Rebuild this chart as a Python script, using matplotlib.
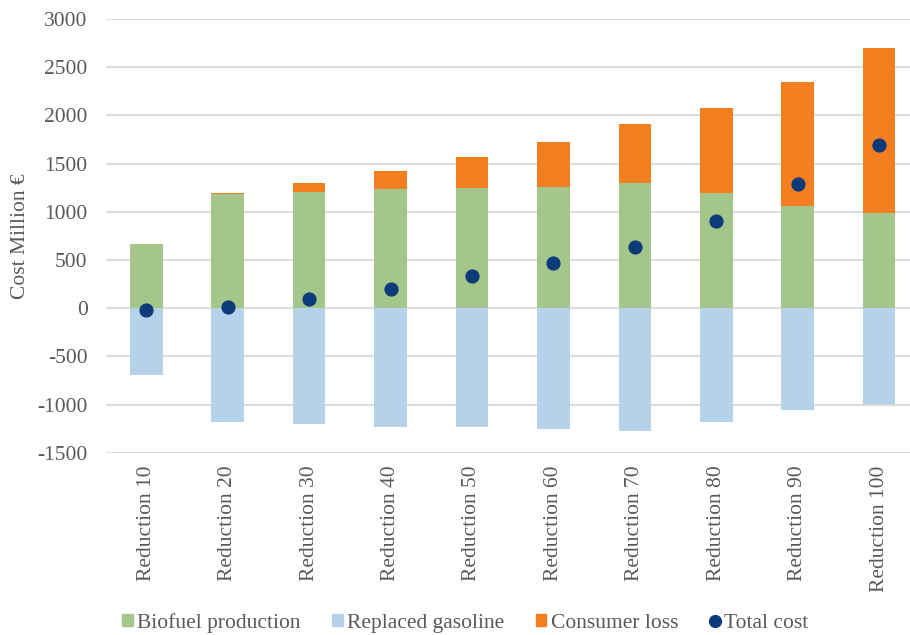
import numpy as np
import matplotlib
matplotlib.use("Agg")
from matplotlib import pyplot as plt
from matplotlib.lines import Line2D
from matplotlib.patches import Patch

categories = ['Reduction 10', 'Reduction 20', 'Reduction 30', 'Reduction 40', 'Reduction 50',
              'Reduction 60', 'Reduction 70', 'Reduction 80', 'Reduction 90', 'Reduction 100']
biofuel = [666, 1183, 1200, 1235, 1249, 1256, 1297, 1190, 1059, 990]
gasoline = [-690, -1184, -1201, -1229, -1236, -1250, -1277, -1180, -1056, -998]
consumer = [0, 10, 97, 193, 324, 466, 618, 891, 1287, 1705]
total = [-24, 9, 96, 199, 337, 472, 638, 901, 1290, 1697]

green = '#A4C68B'
blue = '#B6D2EA'
orange = '#F47F21'
navy = '#0D3B7A'
text_color = '#595959'

plt.rcParams['font.family'] = ['Liberation Serif', 'DejaVu Serif']
plt.rcParams['axes.unicode_minus'] = False

fig = plt.figure(figsize=(9.1, 6.35), dpi=100)
ax = fig.add_axes([105.6 / 910, 1 - 452.7 / 635, 1 - 105.6 / 910, (452.7 - 19) / 635])

x = np.arange(len(categories))
w = 0.4
ax.bar(x, biofuel, w, color=green, zorder=2)
ax.bar(x, gasoline, w, color=blue, zorder=2)
ax.bar(x, consumer, w, bottom=biofuel, color=orange, zorder=2)
ax.scatter(x, total, s=85, color=navy, zorder=3)

ax.set_ylim(-1500, 3000)
ax.set_xlim(-0.5, 9.38)
ax.set_yticks(np.arange(-1500, 3001, 500))
ax.set_xticks(x)
ax.set_xticklabels(categories, rotation=90)
ax.tick_params(axis='both', length=0, labelsize=15.5, colors=text_color)
ax.tick_params(axis='y', pad=13)
ax.tick_params(axis='x', pad=9)
ax.yaxis.grid(True, color='#D9D9D9', linewidth=1.3, zorder=0)
ax.set_axisbelow(True)
for s in ax.spines.values():
    s.set_visible(False)

ax.set_ylabel('Cost Million €', fontsize=15.5, color=text_color)
ax.yaxis.set_label_coords((30 - 105.6) / 804.4, 0.5)

handles = [
    Patch(color=green, label='Biofuel production'),
    Patch(color=blue, label='Replaced gasoline'),
    Patch(color=orange, label='Consumer loss'),
    Line2D([], [], marker='o', linestyle='', color=navy, markersize=8.5, label='Total cost'),
]
leg = fig.legend(handles=handles, loc='center', bbox_to_anchor=(465.5 / 910, 1 - 623 / 635), ncol=4,
                 frameon=False, fontsize=15.5, handlelength=0.5, handleheight=0.5,
                 handletextpad=0.2, columnspacing=1.45)
for t in leg.get_texts():
    t.set_color(text_color)

fig.savefig('out.png', dpi=100)
